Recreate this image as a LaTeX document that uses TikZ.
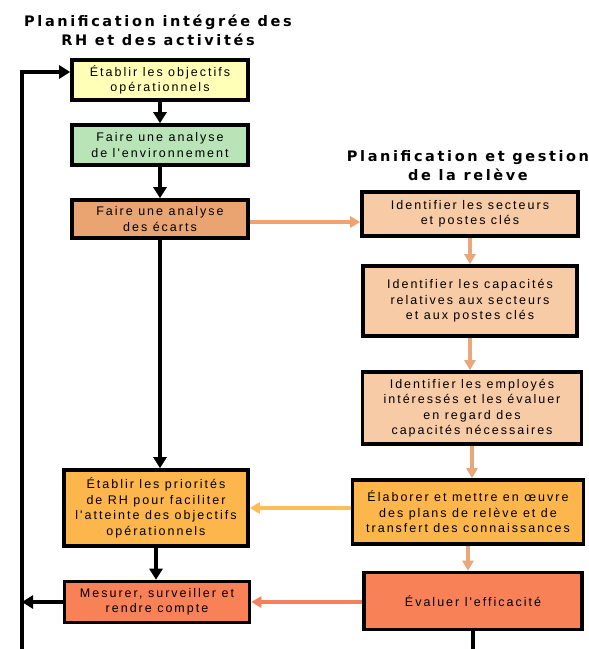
\documentclass[tikz,border=0pt]{standalone}
\usepackage{fontspec}
\setmainfont{Liberation Sans}
\newfontfamily\boxfont{Liberation Sans}[LetterSpace=16]
\newfontfamily\titlefont{DejaVu Sans}[LetterSpace=18]
\usetikzlibrary{positioning,arrows.meta,calc}

\definecolor{cobj}{HTML}{FFFFB8}
\definecolor{cenv}{HTML}{B8E4B8}
\definecolor{cecart}{HTML}{E9A472}
\definecolor{cpeach}{HTML}{F6CBA6}
\definecolor{cgold}{HTML}{FCB64C}
\definecolor{cred}{HTML}{F88158}
\definecolor{aorange}{HTML}{F0A270}
\definecolor{apeach}{HTML}{E9A87C}
\definecolor{agold}{HTML}{FDBE58}
\definecolor{ared}{HTML}{F5805F}

\begin{document}
\begin{tikzpicture}[
        x=1pt, y=-1pt,
        box/.style={draw, line width=3.6pt, align=center, inner sep=1pt,
          font=\boxfont\fontsize{12.5}{15.5}\selectfont},
        ttl/.style={align=center, font=\titlefont\bfseries\fontsize{14.5}{19}\selectfont},
        blk/.style={-{Triangle[width=13pt,length=11pt]}, line width=4pt, black},
        col/.style={-{Triangle[width=11pt,length=10pt]}, line width=4pt}
      ]
      \useasboundingbox (0,0) rectangle (589,649);

      % Titles
      \node[ttl] (tleft) at (158,30) {Planification intégrée des\\RH et des activités};
      \node[ttl] (tright) at (468,166) {Planification et gestion\\de la relève};

      % Left column
      \node[box, fill=cobj, minimum width=176pt, minimum height=40pt] (obj) at (160,80) {Établir les objectifs\\opérationnels};
      \node[box, fill=cenv, minimum width=176pt, minimum height=40pt] (env) at (160,145) {Faire une analyse\\de l'environnement};
      \node[box, fill=cecart, minimum width=176pt, minimum height=38pt] (ecart) at (160,219) {Faire une analyse\\des écarts};
      \node[box, fill=cgold, minimum width=184pt, minimum height=76pt] (prio) at (156,508) {Établir les priorités\\de RH pour faciliter\\l'atteinte des objectifs\\opérationnels};
      \node[box, fill=cred, minimum width=185pt, minimum height=41pt] (mesure) at (157,602) {Mesurer, surveiller et\\rendre compte};

      % Right column
      \node[box, fill=cpeach, minimum width=216pt, minimum height=44pt] (secteur) at (470,214) {Identifier les secteurs\\et postes clés};
      \node[box, fill=cpeach, minimum width=214pt, minimum height=70pt] (capac) at (470,301) {Identifier les capacités\\relatives aux secteurs\\et aux postes clés};
      \node[box, fill=cpeach, minimum width=219pt, minimum height=72pt] (employe) at (472,408) {Identifier les employés\\intéressés et les évaluer\\en regard des\\capacités nécessaires};
      \node[box, fill=cgold, minimum width=231pt, minimum height=64pt] (releve) at (468,512) {Élaborer et mettre en œuvre\\des plans de relève et de\\transfert des connaissances};
      \node[box, fill=cred, minimum width=218pt, minimum height=57pt] (effic) at (473,601) {Évaluer l'efficacité};

      % Loop and open ends
      \coordinate (lbot) at (22,649);
      \coordinate (ltop) at (22,72);
      \coordinate (rbot) at (473,649);

      % Black arrows
      \draw[blk] (obj) -- (env);
      \draw[blk] (env) -- (ecart);
      \draw[blk] (ecart) -- (ecart |- prio.north);
      \draw[blk] (prio) -- (prio |- mesure.north);
      \draw[blk] (mesure) -- (mesure.west -| ltop);
      \draw[blk] (lbot) -- (ltop) -- (ltop -| obj.west);
      \draw[line width=3.2pt] (effic) -- (rbot);

      % Coloured arrows
      \draw[col, aorange] ($(ecart.east)+(0,3)$) -- ($(ecart.east -| secteur.west)+(0,3)$);
      \draw[col, apeach] (secteur) -- (secteur |- capac.north);
      \draw[col, apeach] (capac) -- (capac |- employe.north);
      \draw[col, apeach] (employe) -- (employe |- releve.north);
      \draw[col, apeach] (releve) -- (releve |- effic.north);
      \draw[col, agold] (releve.west |- prio) -- (prio.east);
      \draw[col, ared] (effic.west |- mesure) -- (mesure.east);

\end{tikzpicture}
\end{document}
